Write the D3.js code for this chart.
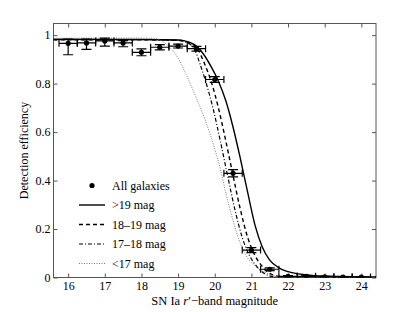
<!DOCTYPE html>
<html><head><meta charset="utf-8">
<script src="https://cdn.jsdelivr.net/npm/d3@7"></script>
<style>body{margin:0;background:#fff}svg{display:block}svg text{font-family:'Liberation Serif','Times New Roman',Times,serif;fill:#000}</style>
</head><body><svg id="c" width="415" height="312" font-family="Liberation Serif, serif"></svg>
<script>
// data points: all galaxies
const binMag = [16,16.5,17,17.5,18,18.5,19,19.5,20,20.5,21,21.5,22,22.5,23,23.5,24];
const binEff = [0.966,0.968,0.976,0.968,0.929,0.950,0.955,0.944,0.817,0.430,0.113,0.034,0.005,0.005,0.003,0.002,0.002];
const binErrUp = [0.018,0.016,0.012,0.009,0.014,0.011,0.008,0.010,0.012,0.015,0.010,0.006,0.003,0.003,0.002,0.002,0.002];
const binErrDown = [0.047,0.027,0.021,0.016,0.014,0.011,0.008,0.010,0.012,0.015,0.010,0.006,0.003,0.003,0.002,0.002,0.002];
const binHalfWidth = [0.25,0.25,0.25,0.25,0.25,0.25,0.25,0.25,0.25,0.25,0.25,0.25,0.25,0.25,0.25,0.25,0.25];
// fitted curves
const brightMag = [15.6,18.0,19.0,19.3,19.5,19.7,19.9,20.1,20.3,20.5,20.7,20.9,21.1,21.3,21.5,21.75,22.0,22.5,23.0,24.4];
const brightEff = [0.983,0.982,0.980,0.971,0.955,0.92,0.87,0.81,0.73,0.62,0.49,0.35,0.215,0.125,0.072,0.04,0.024,0.011,0.006,0.002];
const mag1819 = [15.6,18.0,19.0,19.33,19.52,19.7,19.9,20.1,20.3,20.5,20.7,20.9,21.1,21.3,21.5,21.8,22.5,24.4];
const eff1819 = [0.981,0.981,0.979,0.967,0.946,0.89,0.81,0.70,0.565,0.42,0.28,0.165,0.09,0.045,0.017,0.004,0.002,0.001];
const mag1718 = [15.6,18.0,19.0,19.27,19.46,19.6,19.75,19.95,20.15,20.35,20.55,20.75,20.95,21.15,21.35,21.65,22.5,24.4];
const eff1718 = [0.981,0.981,0.978,0.967,0.938,0.88,0.81,0.70,0.565,0.42,0.28,0.165,0.09,0.045,0.017,0.003,0.002,0.001];
const faintMag = [15.6,18.0,18.4,18.7,19.0,19.24,19.5,19.75,20.0,20.15,20.3,20.5,20.7,20.9,21.1,21.33,21.55,21.75,22.5,24.4];
const faintEff = [0.987,0.988,0.985,0.96,0.905,0.83,0.74,0.645,0.53,0.45,0.35,0.235,0.14,0.08,0.047,0.025,0.009,0.003,0.001,0.001];
const xTicks = [16,17,18,19,20,21,22,23,24];
const yTicks = [0,0.2,0.4,0.6,0.8,1];
const legendLabels = ["All galaxies",">19 mag","18\u201319 mag","17\u201318 mag","<17 mag"];

const FONT = "Liberation Serif, Times New Roman, serif";
const svg = d3.select("#c");
const L=53.5, R=376, T=23.5, B=277.5;
const x = d3.scaleLinear().domain([15.6,24.4]).range([L,R]);
const y = d3.scaleLinear().domain([0,1.048]).range([B,T]);
const axisColor = "#555";

svg.append("defs").append("clipPath").attr("id","pc").append("rect")
  .attr("x",L).attr("y",T).attr("width",R-L).attr("height",B-T);

// axes with inward ticks
const fmt = d => d===0?"0":d===1?"1":d3.format(".1f")(d);
const gB = svg.append("g").attr("transform",`translate(0,${B})`)
  .call(d3.axisBottom(x).tickValues(xTicks).tickSizeInner(-4).tickSizeOuter(0).tickPadding(4).tickFormat(d3.format("d")));
const gT = svg.append("g").attr("transform",`translate(0,${T})`)
  .call(d3.axisTop(x).tickValues(xTicks).tickSizeInner(-4).tickSizeOuter(0).tickFormat(""));
const gL = svg.append("g").attr("transform",`translate(${L},0)`)
  .call(d3.axisLeft(y).tickValues(yTicks).tickSizeInner(-4).tickSizeOuter(0).tickPadding(3).tickFormat(fmt));
const gR = svg.append("g").attr("transform",`translate(${R},0)`)
  .call(d3.axisRight(y).tickValues(yTicks).tickSizeInner(-4).tickSizeOuter(0).tickFormat(""));
[gB,gT,gL,gR].forEach(g=>{
  g.attr("font-family",FONT);
  g.select(".domain").remove();
  g.selectAll(".tick line").attr("stroke",axisColor);
  g.selectAll("text").attr("font-size","12px").attr("font-family",FONT).attr("fill","#000");
});
svg.append("rect").attr("x",L).attr("y",T).attr("width",R-L).attr("height",B-T)
  .attr("fill","none").attr("stroke",axisColor).attr("stroke-width",1);

// curves
const line = d3.line().x(d=>x(d[0])).y(d=>y(d[1])).curve(d3.curveMonotoneX);
const curves = [
  {m:brightMag,e:brightEff,dash:null,color:"#000",w:1.4},
  {m:mag1819,e:eff1819,dash:"4,3",color:"#000",w:1.4},
  {m:mag1718,e:eff1718,dash:"4,2,1,2",color:"#000",w:1.2},
  {m:faintMag,e:faintEff,dash:"1,1.5",color:"#777",w:1}
];
const pg = svg.append("g").attr("clip-path","url(#pc)");
curves.forEach(c=>{
  pg.append("path").datum(c.m.map((m,i)=>[m,c.e[i]])).attr("d",line)
    .attr("fill","none").attr("stroke",c.color).attr("stroke-width",c.w)
    .attr("stroke-dasharray",c.dash);
});

// error bars and points
const pts = binMag.map((m,i)=>({m,e:binEff[i],up:binErrUp[i],dn:binErrDown[i],hw:binHalfWidth[i]}));
const eg = pg.append("g").attr("stroke","#000").attr("stroke-width",1.2);
pts.forEach(p=>{
  const cx=x(p.m), cy=y(p.e);
  const y1=y(p.e+p.up), y2=y(Math.max(0,p.e-p.dn));
  const x1=x(p.m-p.hw), x2=x(p.m+p.hw);
  eg.append("line").attr("x1",cx).attr("x2",cx).attr("y1",y1).attr("y2",y2);
  eg.append("line").attr("x1",cx-5).attr("x2",cx+5).attr("y1",y1).attr("y2",y1);
  eg.append("line").attr("x1",cx-5).attr("x2",cx+5).attr("y1",y2).attr("y2",y2);
  eg.append("line").attr("x1",x1).attr("x2",x2).attr("y1",cy).attr("y2",cy);
  eg.append("line").attr("x1",x1).attr("x2",x1).attr("y1",cy-3.5).attr("y2",cy+3.5);
  eg.append("line").attr("x1",x2).attr("x2",x2).attr("y1",cy-3.5).attr("y2",cy+3.5);
});
pg.append("g").selectAll("circle").data(pts).join("circle")
  .attr("cx",d=>x(d.m)).attr("cy",d=>y(d.e)).attr("r",2.6).attr("fill","#000");

// legend
const lg = svg.append("g").attr("font-family",FONT);
const rowY = [185.5,205,224.5,244,263.5];
legendLabels.forEach((t,i)=>{
  if(i===0){
    lg.append("circle").attr("cx",92).attr("cy",rowY[i]).attr("r",2.6).attr("fill","#000");
  } else {
    const c=curves[i-1];
    lg.append("line").attr("x1",79).attr("x2",105).attr("y1",rowY[i]).attr("y2",rowY[i])
      .attr("stroke",c.color).attr("stroke-width",c.w).attr("stroke-dasharray",c.dash);
  }
  lg.append("text").attr("x",112).attr("y",rowY[i]+4).attr("font-size","12px").attr("font-family",FONT).text(t);
});

// axis labels
const xl = svg.append("text").attr("x",(L+R)/2).attr("y",304.5).attr("text-anchor","middle")
  .attr("font-size","12.5px").attr("font-family",FONT);
xl.append("tspan").text("SN Ia ");
xl.append("tspan").attr("font-style","italic").text("r");
xl.append("tspan").text("\u2032\u2212band magnitude");
svg.append("text").attr("transform",`translate(28,${(T+B)/2}) rotate(-90)`).attr("text-anchor","middle")
  .attr("font-size","12px").attr("font-family",FONT).text("Detection efficiency");
</script></body></html>
